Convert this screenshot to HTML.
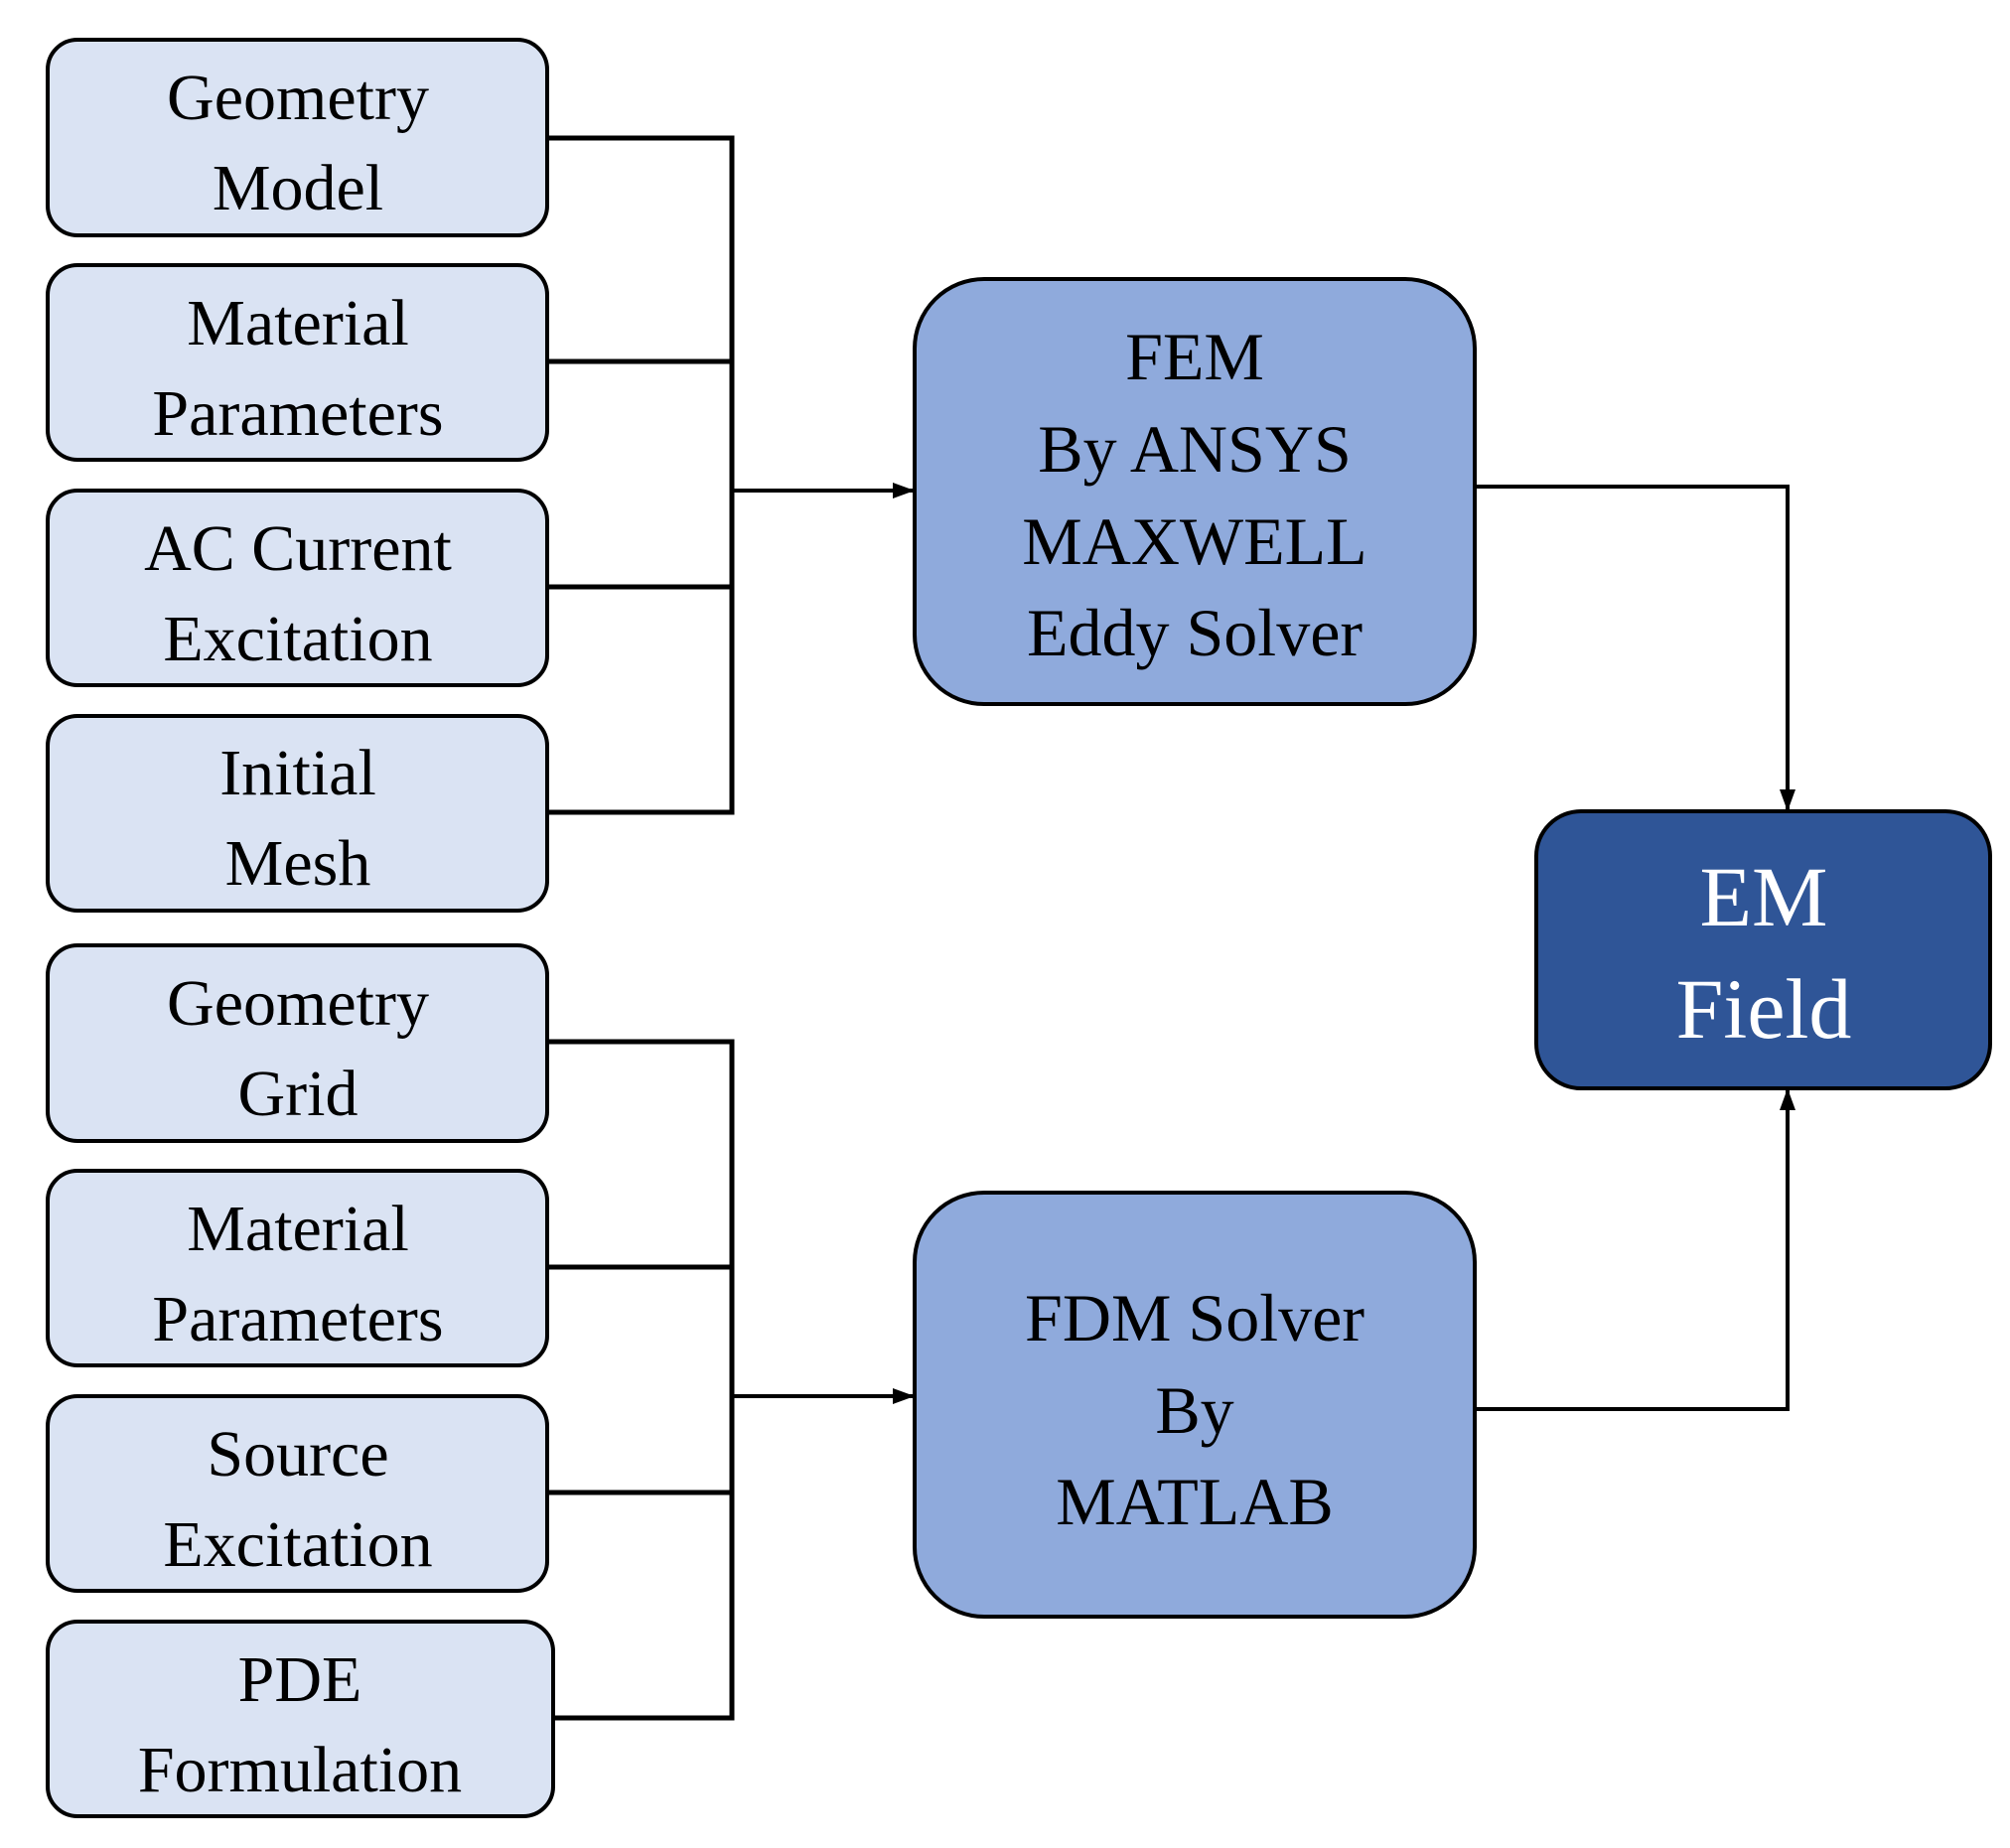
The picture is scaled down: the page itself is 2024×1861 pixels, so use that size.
<!DOCTYPE html>
<html><head><meta charset="utf-8"><style>
html,body{margin:0;padding:0;background:#fff;}
svg{display:block;}
text{font-family:"Liberation Serif","Times New Roman",serif;text-anchor:middle;}
</style></head><body>
<svg width="2024" height="1861" viewBox="0 0 2024 1861" xmlns="http://www.w3.org/2000/svg">
<defs>
<marker id="a" markerWidth="10" markerHeight="10" refX="9" refY="5" orient="auto" markerUnits="userSpaceOnUse" viewBox="0 0 10 10">
<path d="M0,0 L10,5 L0,10 z" fill="#000"/></marker>
<marker id="b" markerWidth="22" markerHeight="22" refX="20" refY="11" orient="auto" markerUnits="userSpaceOnUse" viewBox="0 0 22 22">
<path d="M0,3 L22,11 L0,19 z" fill="#000"/></marker>
</defs>
<g fill="#dae3f3" stroke="#000" stroke-width="4">
<rect x="48" y="40" width="503" height="197" rx="30"/>
<rect x="48" y="267" width="503" height="196" rx="30"/>
<rect x="48" y="494" width="503" height="196" rx="30"/>
<rect x="48" y="721" width="503" height="196" rx="30"/>
<rect x="48" y="952" width="503" height="197" rx="30"/>
<rect x="48" y="1179" width="503" height="196" rx="30"/>
<rect x="48" y="1406" width="503" height="196" rx="30"/>
<rect x="48" y="1633" width="509" height="196" rx="30"/>
</g>
<g fill="none" stroke="#000" stroke-width="5">
<path d="M551 139 H737 V818 H551 M551 364 H737 M551 591 H737"/>
<path d="M551 1049 H737 V1730 H557 M551 1276 H737 M551 1503 H737"/>
</g>
<g stroke="#000" stroke-width="4" fill="none">
<line x1="737" y1="494" x2="919" y2="494" marker-end="url(#b)"/>
<line x1="737" y1="1406" x2="919" y2="1406" marker-end="url(#b)"/>
<path d="M1485 490 H1800 V815" marker-end="url(#b)"/>
<path d="M1485 1419 H1800 V1098" marker-end="url(#b)"/>
</g>
<g stroke="#000" stroke-width="4">
<rect x="921" y="281" width="564" height="428" rx="70" fill="#8faadc"/>
<rect x="921" y="1201" width="564" height="427" rx="70" fill="#8faadc"/>
<rect x="1547" y="817" width="457" height="279" rx="45" fill="#2f5597"/>
</g>
<g font-size="66" fill="#000">
<text x="300" y="120">Geometry</text><text x="300" y="211">Model</text>
<text x="300" y="347">Material</text><text x="300" y="438">Parameters</text>
<text x="300" y="574">AC Current</text><text x="300" y="665">Excitation</text>
<text x="300" y="800">Initial</text><text x="300" y="891">Mesh</text>
<text x="300" y="1032">Geometry</text><text x="300" y="1123">Grid</text>
<text x="300" y="1259">Material</text><text x="300" y="1350">Parameters</text>
<text x="300" y="1486">Source</text><text x="300" y="1577">Excitation</text>
<text x="302" y="1713">PDE</text><text x="302" y="1804">Formulation</text>
</g>
<g font-size="68" fill="#000">
<text x="1203" y="382">FEM</text>
<text x="1203" y="475">By ANSYS</text>
<text x="1203" y="568">MAXWELL</text>
<text x="1203" y="660">Eddy Solver</text>
<text x="1203" y="1350">FDM Solver</text>
<text x="1203" y="1443">By</text>
<text x="1203" y="1535">MATLAB</text>
</g>
<g font-size="86" fill="#fff">
<text x="1776" y="932">EM</text>
<text x="1776" y="1045">Field</text>
</g>
</svg>
</body></html>
